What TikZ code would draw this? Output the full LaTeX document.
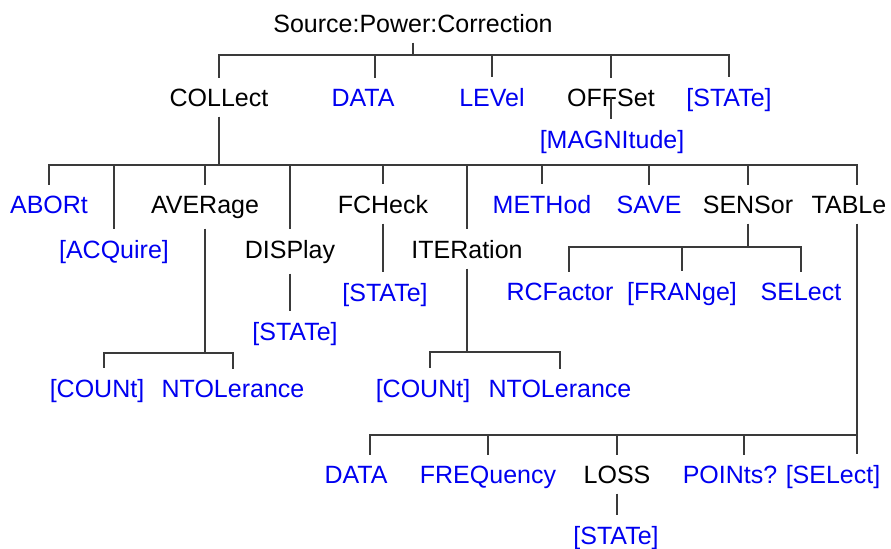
\documentclass[tikz,border=0pt]{standalone}
\usepackage{fontspec}
\setmainfont{Liberation Sans}
\usetikzlibrary{positioning, calc}
\definecolor{cKey}{HTML}{000000}
\definecolor{cLeaf}{HTML}{0000F0}
\definecolor{cLine}{HTML}{3A3A3A}
\newcommand\kwfont{\fontsize{12.5}{15}\selectfont}
\tikzset{
  keyword/.style={
    font=\kwfont, text=cKey, anchor=base,
    inner xsep=0pt, inner ysep=5pt
  },
  leaf/.style={
    keyword, text=cLeaf
  },
  branch/.style={
    draw=cLine, line width=0.75pt
  },
}

\begin{document}
\begin{tikzpicture}[x=0.5pt, y=-0.5pt]
\useasboundingbox (0,0) rectangle (891,548);

% ---- Root ----
\node[keyword] (root) at (413,32) {Source:Power:Correction};

% ---- First level ----
\node[keyword] (collect) at (219,106) {COLLect};
\node[leaf]    (data)    at (363,106) {DATA};
\node[leaf]    (level)   at (492,106) {LEVel};
\node[keyword] (offset)  at (611,106) {OFFSet};
\node[leaf]    (state)   at (729,106) {[STATe]};
\node[leaf]    (magnitude) at (612,148) {[MAGNItude]};

% ---- COLLect subtree ----
\node[leaf]    (abort)     at (49,213)  {ABORt};
\node[leaf]    (acquire)   at (114,258) {[ACQuire]};
\node[keyword] (average)   at (205,213) {AVERage};
\node[keyword] (display)   at (290,258) {DISPlay};
\node[keyword] (fcheck)    at (383,213) {FCHeck};
\node[keyword] (iteration) at (467,258) {ITERation};
\node[leaf]    (method)    at (542,213) {METHod};
\node[leaf]    (save)      at (649,213) {SAVE};
\node[keyword] (sensor)    at (748,213) {SENSor};
\node[keyword] (table)     at (849,213) {TABLe};

% averaging and iteration children
\node[leaf] (avgcount) at (97,397)  {[COUNt]};
\node[leaf] (avgntol)  at (233,397) {NTOLerance};
\node[leaf] (itcount)  at (423,397) {[COUNt]};
\node[leaf] (itntol)   at (560,397) {NTOLerance};

% state leaves
\node[leaf] (dispstate) at (295,340) {[STATe]};
\node[leaf] (fcstate)   at (385,301) {[STATe]};

% sensor children
\node[leaf] (rcfactor) at (560,300) {RCFactor};
\node[leaf] (frange)   at (682,300) {[FRANge]};
\node[leaf] (select)   at (801,300) {SELect};

% table children
\node[leaf]    (tdata)   at (356,483) {DATA};
\node[leaf]    (tfreq)   at (488,483) {FREQuency};
\node[keyword] (tloss)   at (617,483) {LOSS};
\node[leaf]    (tpoints) at (730,483) {POINts?};
\node[leaf]    (tselect) at (833,483) {[SELect]};
\node[leaf]    (lossstate) at (616,544) {[STATe]};

% ---- Bus junctions ----
\coordinate (rootbus) at (413,55);
\coordinate (colbus)  at (219,165);
\coordinate (avgbus)  at (205,353);
\coordinate (itbus)   at (467,352);
\coordinate (senbus)  at (748,247);
\coordinate (tabbus)  at (857,435);

% ---- Branches ----
% root -> first level
\draw[branch] (root.south) -- (rootbus);
\draw[branch] (rootbus) -| (collect.north);
\draw[branch] (rootbus) -| ([xshift=6pt]data.north);
\draw[branch] (rootbus) -| (level.north);
\draw[branch] (rootbus) -| (offset.north);
\draw[branch] (rootbus) -| (state.north);
\draw[branch] (offset.center) -- (offset.center |- magnitude.north);

% collect -> second level
\draw[branch] (collect.south) -- (colbus);
\draw[branch] (colbus) -| (abort.north);
\draw[branch] (colbus) -| (acquire.north);
\draw[branch] (colbus) -| (average.north);
\draw[branch] (colbus) -| (display.north);
\draw[branch] (colbus) -| (fcheck.north);
\draw[branch] (colbus) -| (iteration.north);
\draw[branch] (colbus) -| (method.north);
\draw[branch] (colbus) -| (save.north);
\draw[branch] (colbus) -| (sensor.north);
\draw[branch] (colbus) -| ([xshift=4pt]table.north);

% average, iteration
\draw[branch] (average.south) -- (avgbus);
\draw[branch] (avgbus) -| ([xshift=3.5pt]avgcount.north);
\draw[branch] (avgbus) -| (avgntol.north);
\draw[branch] (iteration.south) -- (itbus);
\draw[branch] (itbus) -| ([xshift=3.5pt]itcount.north);
\draw[branch] (itbus) -| (itntol.north);

% state leaves
\draw[branch] (display.south) -- (display.south |- dispstate.north);
\draw[branch] (fcheck.south) -- (fcheck.south |- fcstate.north);

% sensor
\draw[branch] (sensor.south) -- (senbus);
\draw[branch] (senbus) -| ([xshift=4.5pt]rcfactor.north);
\draw[branch] (senbus) -| (frange.north);
\draw[branch] (senbus) -| (select.north);

% table
\draw[branch] ([xshift=4pt]table.south) -- (tabbus);
\draw[branch] (tabbus) -| ([xshift=7pt]tdata.north);
\draw[branch] (tabbus) -| (tfreq.north);
\draw[branch] (tabbus) -| (tloss.north);
\draw[branch] (tabbus) -| ([xshift=7pt]tpoints.north);
\draw[branch] (tabbus) -| ([xshift=12pt]tselect.north);
\draw[branch] (tloss.south) -- (tloss.south |- lossstate.north);

\end{tikzpicture}
\end{document}
